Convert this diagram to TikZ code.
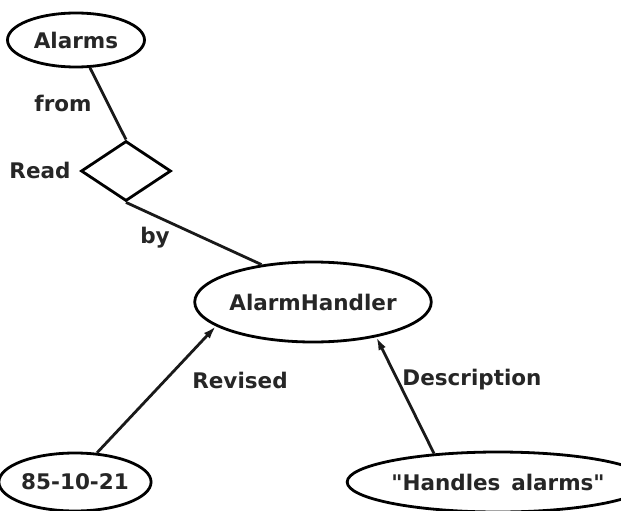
\documentclass[tikz,border=0pt]{standalone}
\usepackage{fontspec}
\setmainfont{DejaVu Sans}
% same family without TeX ligatures, so the straight double quote stays straight
\newfontfamily\plainquote{DejaVu Sans}
\usetikzlibrary{shapes.geometric,arrows.meta}
\newcommand{\dq}{{\plainquote\bfseries"}}
\begin{document}
\begin{tikzpicture}[x=1pt,y=-1pt,
  every node/.style={font=\fontsize{21.5}{24}\selectfont\bfseries, text=black!85},
  entity/.style={draw=black, line width=2.8pt, ellipse, inner sep=0pt},
  relation/.style={draw=black, line width=2.8pt, diamond, inner sep=0pt,
    minimum width=90pt, minimum height=60pt},
  link/.style={line width=2.8pt, draw=black!90},
  arrow/.style={link, -{Latex[length=13pt,width=8pt]}},
  lbl/.style={inner sep=0pt}]
\useasboundingbox (0,0) rectangle (621,511);
% entities
\node[entity, minimum width=137pt, minimum height=54pt] (alarms) at (76,40) {Alarms};
\node[relation] (read) at (126,171) {};
\node[entity, minimum width=188pt, minimum height=80pt] (handler) at (313,302) {AlarmHandler};
\node[entity, minimum width=135pt, minimum height=58pt] (date) at (75,482) {85-10-21};
\node[entity, minimum width=246pt, minimum height=60pt] (desc) at (498,482)
  {\dq Handles\hspace{0.5em}alarms\dq};
% connectors
\draw[link] (alarms) -- (read.north);
\draw[link] (read.south) -- (handler.144);
\draw[arrow] (date.53) -- (handler.194);
\draw[arrow] (desc.156) -- (handler.-29);
% role labels
\node[lbl] (from) at (63,103) {from};
\node[lbl] (readlbl) at (40,170) {Read};
\node[lbl] (by) at (155,238) {by};
\node[lbl] (revised) at (240,380) {Revised};
\node[lbl] (description) at (472,380) {Description};
\end{tikzpicture}
\end{document}
